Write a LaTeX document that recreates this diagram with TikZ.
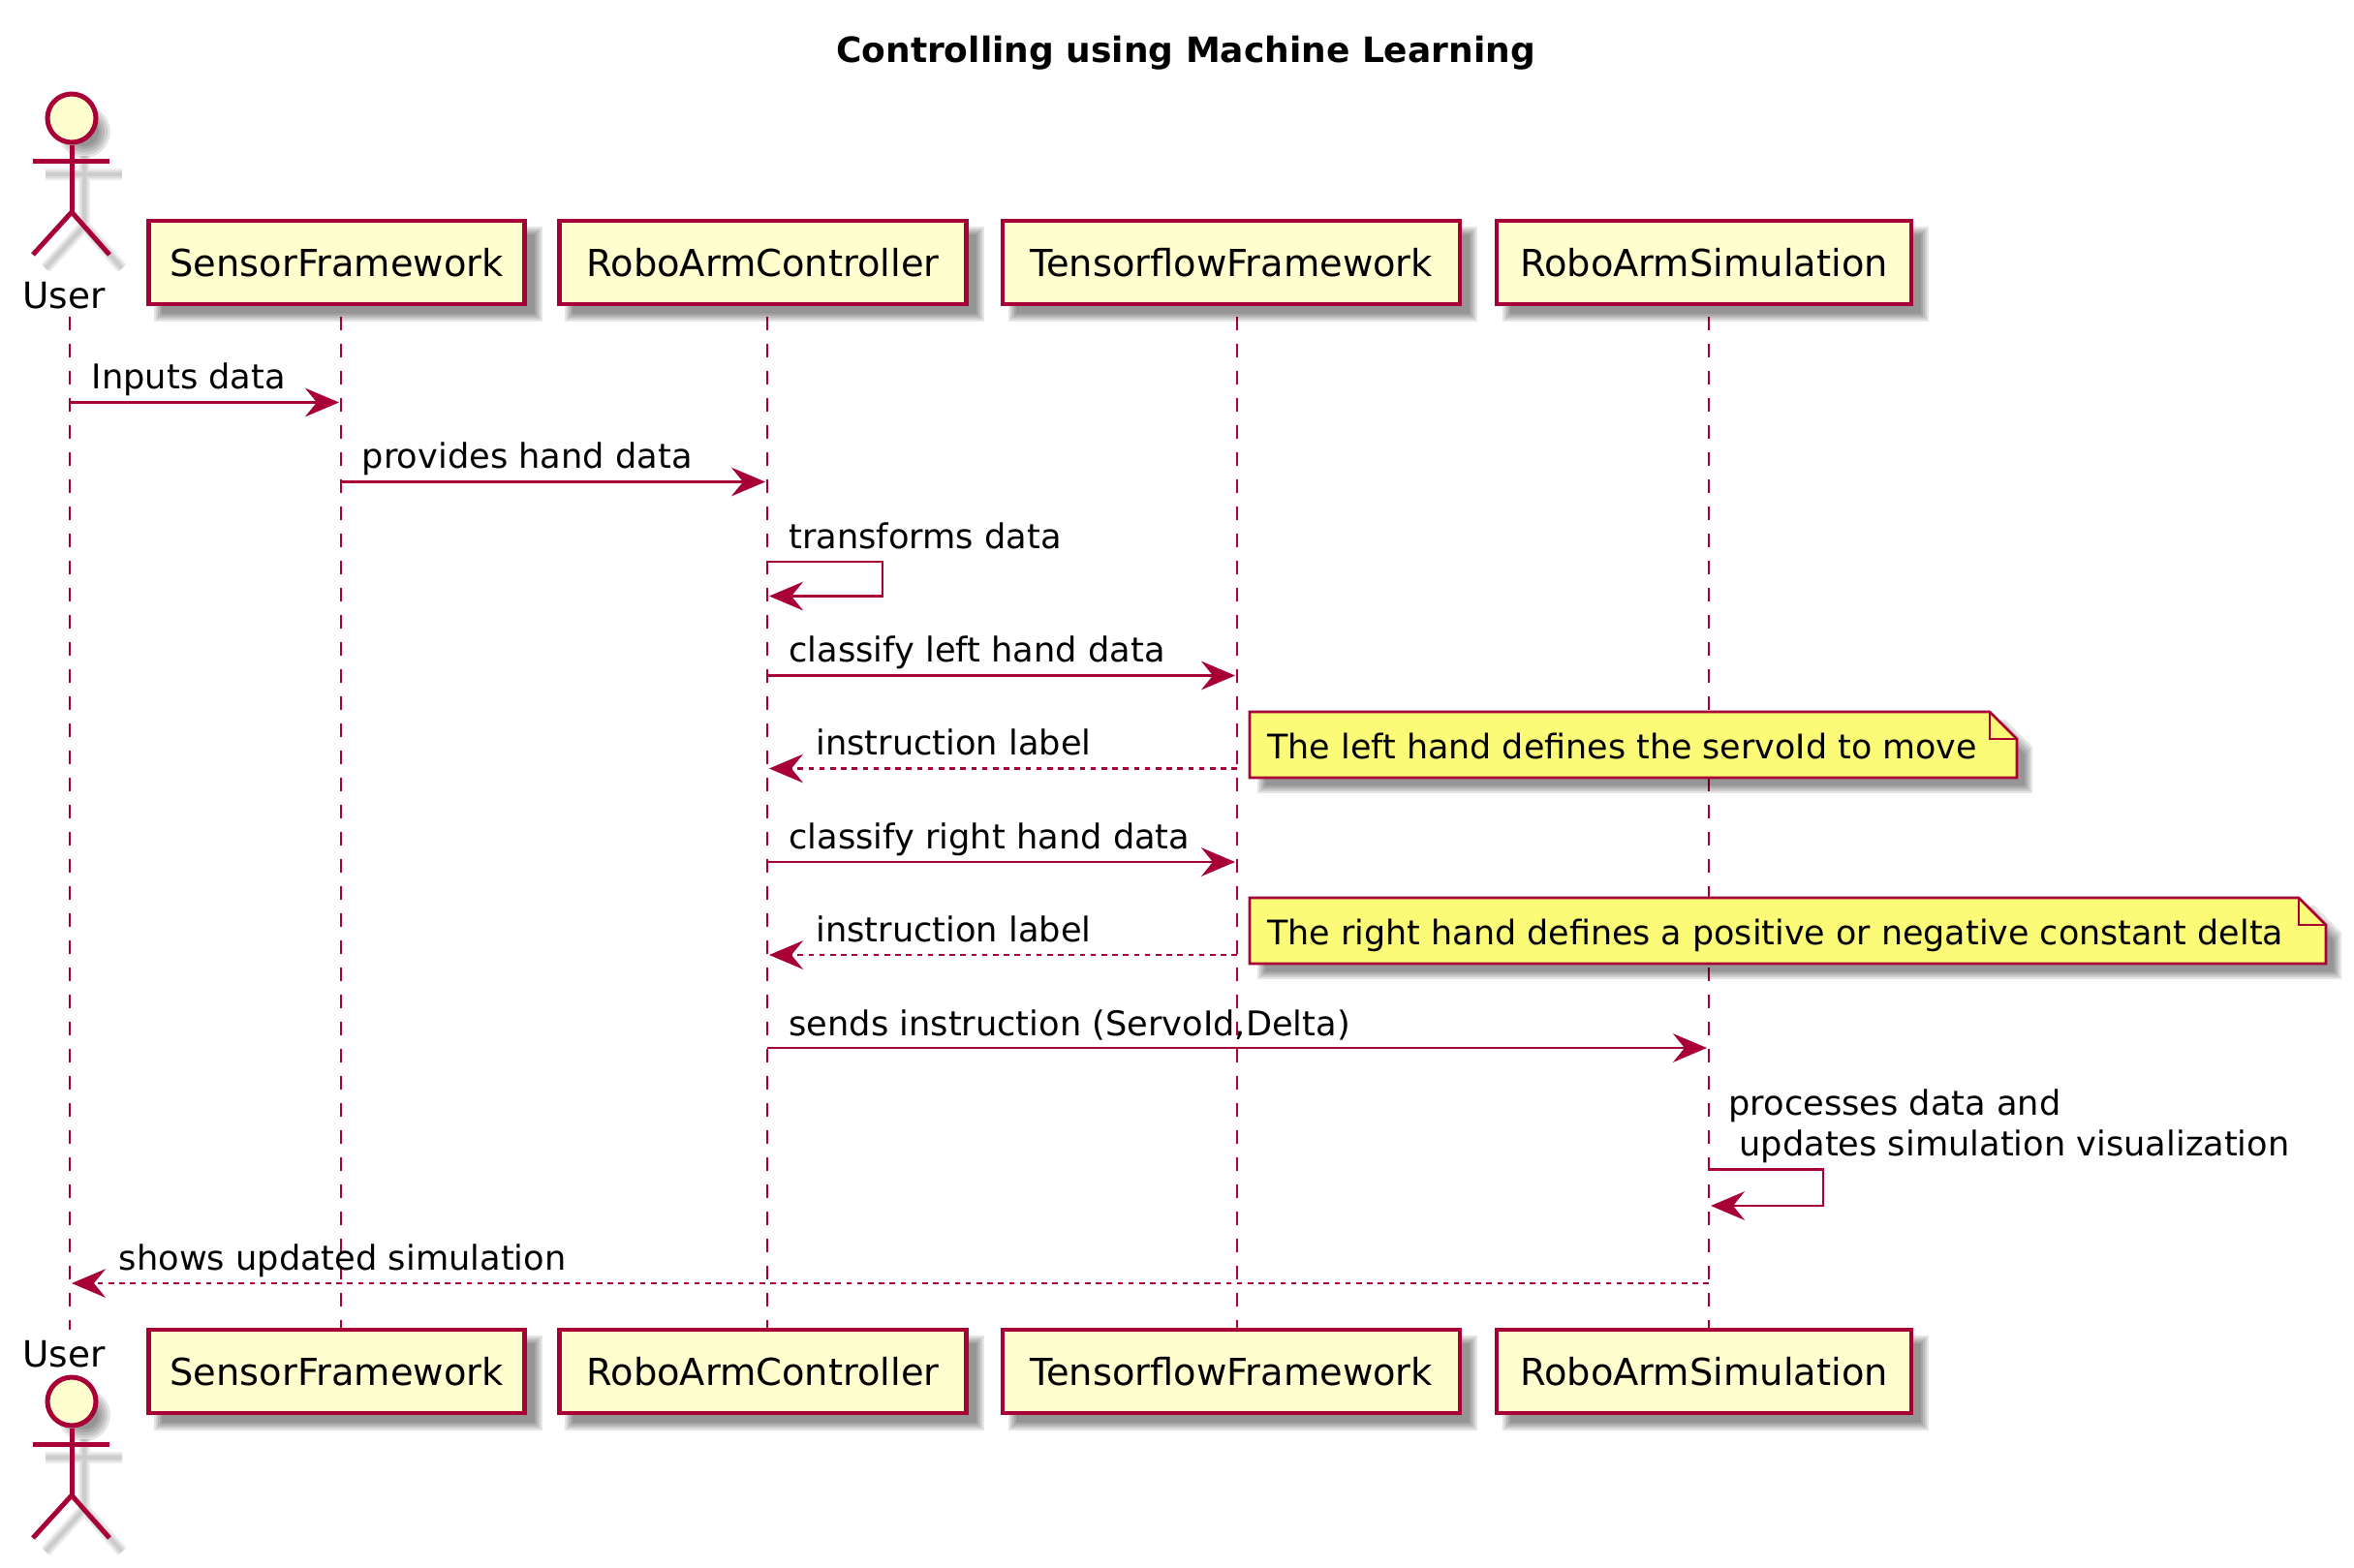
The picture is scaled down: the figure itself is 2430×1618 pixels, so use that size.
\documentclass[tikz,border=0pt]{standalone}
\usepackage{fontspec}
\setmainfont{DejaVu Sans}
\usetikzlibrary{arrows.meta, backgrounds}
\definecolor{umlred}{HTML}{A80036}
\definecolor{umlbox}{HTML}{FEFECE}
\definecolor{umlnote}{HTML}{FBFB77}
\tikzstyle{participant} = [draw=umlred,fill=umlbox,line width=2.1pt,inner sep=0pt,text height=14.5pt,text depth=0pt,font=\fontsize{19.2}{22}\selectfont]
\tikzstyle{lifeline} = [draw=umlred,line width=1.45pt,dash pattern=on 7pt off 7pt]
\tikzstyle{arrow} = [draw=umlred,line width=1.4pt,-{Stealth[length=17.5pt,width=14.8pt,inset=6pt]},shorten >=1pt]
\tikzstyle{retarrow} = [arrow,dash pattern=on 2.8pt off 2.8pt]
\tikzstyle{msglabel} = [anchor=base west,inner sep=0pt,font=\fontsize{17.6}{21}\selectfont]
\tikzstyle{notelabel} = [anchor=base west,inner sep=0pt,font=\fontsize{17.45}{21}\selectfont]
\tikzstyle{notebox} = [anchor=north west,inner sep=0pt,outer sep=0pt]
\tikzstyle{noteline} = [draw=umlred,line width=1.4pt]
\tikzstyle{actorline} = [draw=umlred,line width=2.5pt]
\tikzstyle{softfill} = [fill=black,opacity=0.1]
\tikzstyle{softline} = [draw=black,opacity=0.07,line cap=butt]

% blurred shadow of a participant box
\newcommand{\boxshade}[1]{%
  \foreach \bl in {-4,-2,0,2,4}{
    \fill[softfill] ([shift={({12-\bl},{12-\bl})}]#1.north west) rectangle ([shift={({12+\bl},{12+\bl})}]#1.south east);
  }}
% blurred shadow of a note, with the corner cut off
\newcommand{\noteshade}[1]{%
  \foreach \bl in {-4,-2,0,2,4}{
    \fill[softfill] ([shift={({12-\bl},{12-\bl})}]#1.north west) -- ([shift={({\bl-16},{12-\bl})}]#1.north east)
      -- ([shift={({12+\bl},{40-\bl})}]#1.north east) -- ([shift={({12+\bl},{12+\bl})}]#1.south east)
      -- ([shift={({12-\bl},{12+\bl})}]#1.south west) -- cycle;
  }}
% stick figure, #2 moves it down
\newcommand{\stickfigure}[2]{%
  \begin{scope}[shift={(0,#2)}]
    \begin{pgfonlayer}{background}
      \foreach \rd in {15,18,21,24,27}{\fill[softfill] (87,136) circle [radius=\rd];}
      \foreach \lw in {6,4,2}{
        \draw[softline,line width=\lw pt] (87,161) -- (87,233) (47,180) -- (126,180) (47,277) -- (87,233) -- (126,277);
      }
    \end{pgfonlayer}
    \node at (74,122) [circle,draw=umlred,fill=umlbox,line width=2.5pt,minimum size=25pt,inner sep=0pt] (#1head) {};
    \coordinate (#1hip) at (74,219);
    \coordinate (#1armL) at (34,166);
    \coordinate (#1armR) at (113,166);
    \coordinate (#1legL) at (34,263);
    \coordinate (#1legR) at (113,263);
    \draw [actorline] (#1head.south) -- (#1hip);
    \draw [actorline] (#1armL) -- (#1armR);
    \draw [actorline] (#1legL) -- (#1hip) -- (#1legR);
  \end{scope}}

\begin{document}
\begin{tikzpicture}[x=0.5pt,y=-0.5pt]
    \useasboundingbox (0,0) rectangle (2430,1618);

    %title
    \node at (1224,55) [inner sep=0pt,font=\fontsize{18}{21}\selectfont\bfseries] (title) {Controlling using Machine Learning};

    %lifelines
    \coordinate (user) at (72,327);
    \coordinate (sensor) at (352,327);
    \coordinate (ctrl) at (792,327);
    \coordinate (tensor) at (1277,327);
    \coordinate (sim) at (1764,327);
    \coordinate (lifeend) at (0,1373);
    \begin{pgfonlayer}{background}
        \draw [lifeline] (user) -- (user |- lifeend);
        \draw [lifeline] (sensor) -- (sensor |- lifeend);
        \draw [lifeline] (ctrl) -- (ctrl |- lifeend);
        \draw [lifeline] (tensor) -- (tensor |- lifeend);
        \draw [lifeline] (sim) -- (sim |- lifeend);
    \end{pgfonlayer}

    %top row
    \stickfigure{usertop}{0}
    \node at (66,305) [inner sep=0pt,font=\fontsize{18.7}{22}\selectfont] (usertoptext) {User};
    \node at (347.5,271) [participant,minimum width=194pt,minimum height=43pt] (sensortop) {SensorFramework};
    \node at (787.5,271) [participant,minimum width=210pt,minimum height=43pt] (ctrltop) {RoboArmController};
    \node at (1271,271) [participant,minimum width=236pt,minimum height=43pt] (tensortop) {TensorflowFramework};
    \node at (1759,271) [participant,minimum width=214pt,minimum height=43pt] (simtop) {RoboArmSimulation};

    %bottom row
    \stickfigure{userbot}{1325}
    \node at (66,1398) [inner sep=0pt,font=\fontsize{18.7}{22}\selectfont] (userbottext) {User};
    \node at (347.5,1416) [participant,minimum width=194pt,minimum height=43pt] (sensorbot) {SensorFramework};
    \node at (787.5,1416) [participant,minimum width=210pt,minimum height=43pt] (ctrlbot) {RoboArmController};
    \node at (1271,1416) [participant,minimum width=236pt,minimum height=43pt] (tensorbot) {TensorflowFramework};
    \node at (1759,1416) [participant,minimum width=214pt,minimum height=43pt] (simbot) {RoboArmSimulation};

    \begin{pgfonlayer}{background}
        \boxshade{sensortop} \boxshade{ctrltop} \boxshade{tensortop} \boxshade{simtop}
        \boxshade{sensorbot} \boxshade{ctrlbot} \boxshade{tensorbot} \boxshade{simbot}
    \end{pgfonlayer}

    %messages
    \coordinate (m1) at (0,415.5);
    \coordinate (m2) at (0,497.5);
    \coordinate (m3) at (0,580);
    \coordinate (m3b) at (0,615.5);
    \coordinate (m4) at (0,697.5);
    \coordinate (m5) at (0,793.5);
    \coordinate (m6) at (0,890);
    \coordinate (m7) at (0,986);
    \coordinate (m8) at (0,1082);
    \coordinate (m9) at (0,1207.5);
    \coordinate (m9b) at (0,1245);
    \coordinate (m10) at (0,1325);

    \draw [arrow] (user |- m1) -- (sensor |- m1);
    \node at (94.5,401) [msglabel] (t1) {Inputs data};
    \draw [arrow] (sensor |- m2) -- (ctrl |- m2);
    \node at (373.5,483) [msglabel] (t2) {provides hand data};
    \draw [arrow] (ctrl |- m3) -- ++(119,0) |- (ctrl |- m3b);
    \node at (814,566) [msglabel] (t3) {transforms data};
    \draw [arrow] (ctrl |- m4) -- (tensor |- m4);
    \node at (814,683.5) [msglabel] (t4) {classify left hand data};
    \draw [retarrow] (tensor |- m5) -- (ctrl |- m5);
    \node at (842,779.5) [msglabel] (t5) {instruction label};
    \draw [arrow] (ctrl |- m6) -- (tensor |- m6);
    \node at (814,876) [msglabel] (t6) {classify right hand data};
    \draw [retarrow] (tensor |- m7) -- (ctrl |- m7);
    \node at (842,972) [msglabel] (t7) {instruction label};
    \draw [arrow] (ctrl |- m8) -- (sim |- m8);
    \node at (814,1069) [msglabel] (t8) {sends instruction (ServoId,Delta)};
    \draw [arrow] (sim |- m9) -- ++(118,0) |- (sim |- m9b);
    \node at (1784,1151) [msglabel] (t9a) {processes data and};
    \node at (1795,1193) [msglabel] (t9b) {updates simulation visualization};
    \draw [retarrow] (sim |- m10) -- (user |- m10);
    \node at (122.5,1311) [msglabel] (t10) {shows updated simulation};

    %notes
    \node at (1290,735) [notebox,minimum width=396pt,minimum height=34pt] (note1) {};
    \draw [noteline,fill=umlnote] (note1.north west) -- ([xshift=-14pt]note1.north east) -- ([yshift=-14pt]note1.north east) -- (note1.south east) -- (note1.south west) -- cycle;
    \draw [noteline] ([xshift=-14pt]note1.north east) |- ([yshift=-14pt]note1.north east);
    \node at (1308,783) [notelabel] (note1text) {The left hand defines the servoId to move};
    \node at (1290,927) [notebox,minimum width=555.5pt,minimum height=34pt] (note2) {};
    \draw [noteline,fill=umlnote] (note2.north west) -- ([xshift=-14pt]note2.north east) -- ([yshift=-14pt]note2.north east) -- (note2.south east) -- (note2.south west) -- cycle;
    \draw [noteline] ([xshift=-14pt]note2.north east) |- ([yshift=-14pt]note2.north east);
    \node at (1308,975) [notelabel] (note2text) {The right hand defines a positive or negative constant delta};
    \begin{pgfonlayer}{background}
        \noteshade{note1} \noteshade{note2}
    \end{pgfonlayer}

\end{tikzpicture}
\end{document}
